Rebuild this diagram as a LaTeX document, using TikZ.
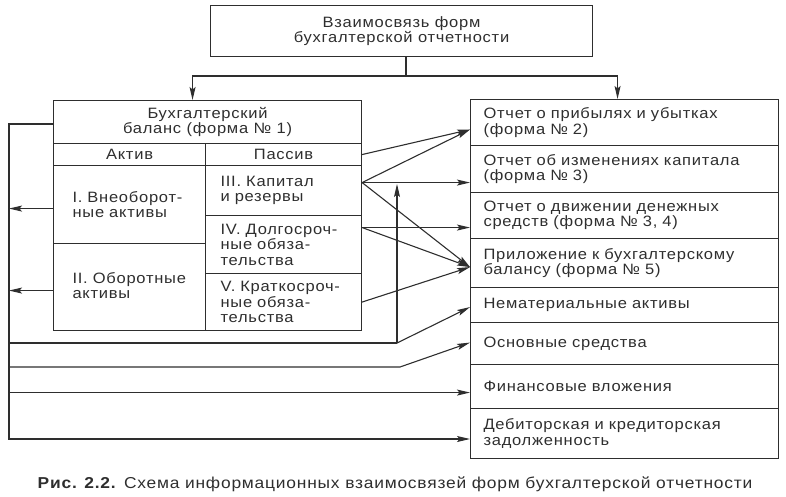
\documentclass[tikz,border=0pt]{standalone}
\usepackage{fontspec}
\setmainfont{Liberation Sans}[FakeStretch=1.1,LetterSpace=5]
\usetikzlibrary{arrows.meta,calc}
\definecolor{ink}{HTML}{2E2E2E}
\begin{document}
\begin{tikzpicture}[x=1pt,y=-1pt,
  every node/.style={font=\fontsize{15}{15.5}\selectfont, text=ink},
  cell/.style={draw=ink, line width=1.1pt, inner sep=0pt, anchor=north west, align=center},
  lcell/.style={draw=ink, line width=1.1pt, inner ysep=0pt, inner xsep=#1pt, anchor=north west, align=left},
  ln/.style={draw=ink, line width=1.1pt},
  arr/.style={ln, -{Stealth[length=13pt,width=6pt,inset=2.5pt]}}]
\useasboundingbox (0,0) rectangle (786,496);
% title
\node[cell, minimum width=382pt, minimum height=51pt] (title) at (210,5) {Взаимосвязь форм\\бухгалтерской отчетности};
% balance
\node[cell, minimum width=308pt, minimum height=43pt] (balhead) at (53,100) {Бухгалтерский\\баланс (форма № 1)};
\node[cell, minimum width=152pt, minimum height=22pt] (akt) at (53,143) {Актив};
\node[cell, minimum width=156pt, minimum height=22pt] (pas) at (205,143) {Пассив};
\node[lcell=19, text width=114pt, minimum height=78pt] (a1) at (53,165) {I. Внеоборот-\\ные активы};
\node[lcell=19, text width=114pt, minimum height=87pt] (a2) at (53,243) {II. Оборотные\\активы\vphantom{g}\\[4pt]};
\node[lcell=15, text width=126pt, minimum height=50pt] (p3) at (205,165) {III. Капитал\\и резервы};
\node[lcell=15, text width=126pt, minimum height=58pt] (p4) at (205,215) {IV. Долгосроч-\\ные обяза-\\тельства};
\node[lcell=15, text width=126pt, minimum height=57pt] (p5) at (205,273) {V. Краткосроч-\\ные обяза-\\тельства};
% right column
\node[lcell=13, text width=282pt, minimum height=46pt] (r1) at (470,99) {Отчет о прибылях и убытках\\(форма № 2)};
\node[lcell=13, text width=282pt, minimum height=47pt] (r2) at (470,145) {Отчет об изменениях капитала\\(форма № 3)};
\node[lcell=13, text width=282pt, minimum height=46pt] (r3) at (470,192) {Отчет о движении денежных\\средств (форма № 3, 4)};
\node[lcell=13, text width=282pt, minimum height=49pt] (r4) at (470,238) {Приложение к бухгалтерскому\\балансу (форма № 5)};
\node[lcell=13, text width=282pt, minimum height=35pt] (r5) at (470,287) {Нематериальные активы};
\node[lcell=13, text width=282pt, minimum height=42pt] (r6) at (470,322) {Основные средства};
\node[lcell=13, text width=282pt, minimum height=44pt] (r7) at (470,364) {Финансовые вложения};
\node[lcell=13, text width=282pt, minimum height=50pt] (r8) at (470,408) {Дебиторская и кредиторская\\задолженность};
% caption
\node[font=\fontsize{15.8}{17}\selectfont] (cap) at (395,484) {\textbf{Рис. 2.2.} Схема информационных взаимосвязей форм бухгалтерской отчетности};
% top connectors
\coordinate (split) at (406,76);
\draw[ln] (title.south -| split) -- (split);
\draw[arr] (split) -| ([xshift=-15pt]balhead.north);
\draw[arr] (split) -| ([xshift=-7pt]r1.north);
% left loop
\coordinate (Ltop) at (9,124);
\coordinate (Lbot) at (9,439);
\draw[arr] (balhead.west |- Ltop) -- (Ltop) -- (Lbot) -- (r8.west |- Lbot);
\coordinate (a1W) at ($(a1.west)+(0,4)$);
\coordinate (a2W) at ($(a2.west)+(0,3.5)$);
\draw[arr] (a1W) -- (a1W -| Ltop);
\draw[arr] (a2W) -- (a2W -| Ltop);
\coordinate (V1) at (397,343);
\coordinate (Vtop) at (397,184);
\draw[ln] (Ltop |- V1) -- (V1);
\draw[arr] (V1) -- (Vtop);
\draw[arr] (V1) -- ($(r5.west)+(0,2)$);
\coordinate (B2) at (400,367);
\draw[arr] (Ltop |- B2) -- (B2) -- ($(r6.west)+(0,-1)$);
\coordinate (c7) at ($(r7.west)+(0,6)$);
\draw[arr] (Ltop |- c7) -- (c7);
% right arrows from balance
\coordinate (t1) at ($(r1.west)+(0,7)$);
\coordinate (t4) at ($(r4.west)+(0,4)$);
\coordinate (capE) at ($(p3.east)+(0,-8)$);
\coordinate (p4E) at ($(p4.east)+(0,-17)$);
\draw[arr] (pas.east) -- (t1);
\draw[arr] (capE) -- (t1);
\draw[arr] (capE) -- (capE -| r2.west);
\draw[arr] (capE) -- (t4);
\draw[arr] (p4E) -- (p4E -| r3.west);
\draw[arr] (p4E) -- (t4);
\draw[arr] (p5.east) -- (t4);
\end{tikzpicture}
\end{document}
